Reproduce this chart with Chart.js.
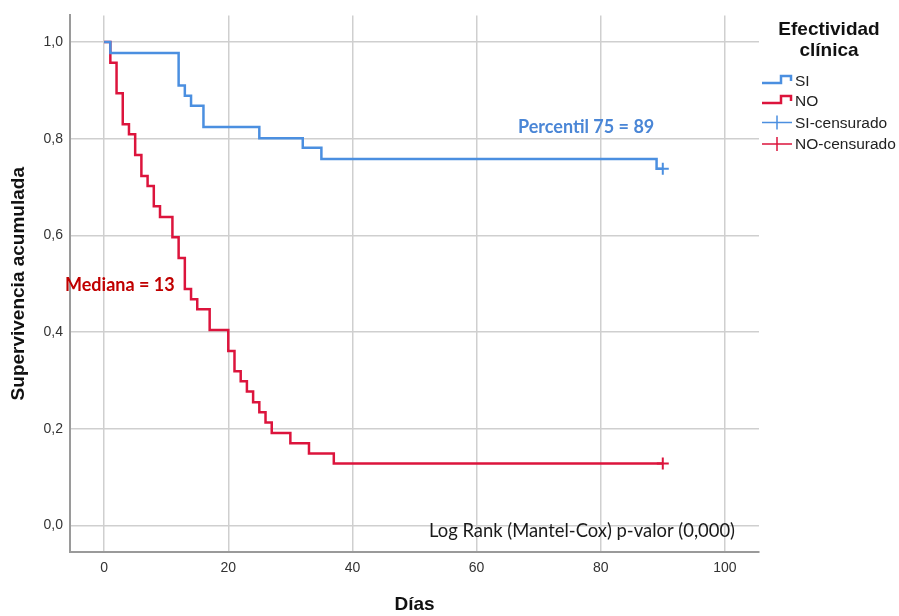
<!DOCTYPE html>
<html>
<head>
<meta charset="utf-8">
<script src="https://cdn.jsdelivr.net/npm/chart.js@4/dist/chart.umd.min.js"></script>
<style>
  html, body { margin: 0; padding: 0; background: #ffffff; }
  #wrap { width: 899px; height: 616px; position: relative; }
</style>
</head>
<body>
<div id="wrap"><canvas id="c" width="899" height="616"></canvas></div>
<script>
// ---- Data ----
const dayTicks = [0, 20, 40, 60, 80, 100];
const survTicks = [0, 0.2, 0.4, 0.6, 0.8, 1.0];

const siDays = [0, 1, 12, 13, 14, 16, 25, 32, 35, 89, 90];
const siSurv = [1, 0.977, 0.910, 0.889, 0.868, 0.824, 0.801, 0.781, 0.758, 0.738, 0.738];

const noDays = [0, 1, 2, 3, 4, 5, 6, 7, 8, 9, 11, 12, 13, 14, 15, 17, 20, 21, 22, 23, 24, 25, 26, 27, 30, 33, 37, 90];
const noSurv = [1, 0.957, 0.894, 0.830, 0.809, 0.766, 0.723, 0.702, 0.660, 0.638, 0.596, 0.553, 0.489, 0.468, 0.447, 0.404, 0.361, 0.319, 0.298, 0.277, 0.255, 0.234, 0.213, 0.191, 0.170, 0.149, 0.128, 0.128];

const siCensDays = [90];
const siCensSurv = [0.738];
const noCensDays = [90];
const noCensSurv = [0.128];

const groupLabels = ['SI', 'NO', 'SI-censurado', 'NO-censurado'];
const legendTitle = ['Efectividad', 'clínica'];
const xTitle = 'Días';
const yTitle = 'Supervivencia acumulada';
const noteMedian = 'Mediana = 13';
const notePct = 'Percentil 75 = 89';
const noteLogRank = 'Log Rank (Mantel-Cox) p-valor (0,000)';

// ---- Styles ----
const BLUE = '#4b8fe0';
const RED = '#dc143c';
const SANS = '"Liberation Sans", Arial, sans-serif';
const CAL = 'Lato, "Open Sans", sans-serif';

function pts(xs, ys) { return xs.map((x, i) => ({ x: x, y: ys[i] })); }

const legendPlugin = {
  id: 'spssLegend',
  afterDraw(chart) {
    const ctx = chart.ctx;
    ctx.save();
    ctx.fillStyle = '#111';
    ctx.textAlign = 'center';
    ctx.textBaseline = 'middle';
    ctx.font = 'bold 19px ' + SANS;
    ctx.fillText(legendTitle[0], 829, 30);
    ctx.fillText(legendTitle[1], 829, 51);

    const rows = [81, 101, 122.5, 144];
    const cols = [BLUE, RED, BLUE, RED];
    for (let i = 0; i < 4; i++) {
      const y = rows[i];
      ctx.strokeStyle = cols[i];
      if (i < 2) {
        ctx.lineWidth = 2.5;
        ctx.beginPath();
        ctx.moveTo(762, y + 2);
        ctx.lineTo(781, y + 2);
        ctx.lineTo(781, y - 5);
        ctx.lineTo(791, y - 5);
        ctx.lineTo(791, y);
        ctx.stroke();
      } else {
        ctx.lineWidth = 1.5;
        ctx.beginPath();
        ctx.moveTo(762, y);
        ctx.lineTo(792, y);
        ctx.moveTo(777, y - 7);
        ctx.lineTo(777, y + 7);
        ctx.stroke();
      }
      ctx.fillStyle = '#222';
      ctx.textAlign = 'left';
      ctx.font = '15.5px ' + SANS;
      ctx.fillText(groupLabels[i], 795, y + 1);
    }
    ctx.restore();
  }
};

const notesPlugin = {
  id: 'notes',
  afterDatasetsDraw(chart) {
    const ctx = chart.ctx;
    ctx.save();
    ctx.textBaseline = 'middle';
    ctx.textAlign = 'left';
    ctx.font = 'bold 18px ' + CAL;
    ctx.fillStyle = '#4a86d6';
    ctx.fillText(notePct, 518, 127);
    ctx.fillStyle = '#c00000';
    ctx.fillText(noteMedian, 65, 285);
    ctx.font = '18.4px ' + CAL;
    ctx.fillStyle = '#1a1a1a';
    ctx.fillText(noteLogRank, 429, 531);
    ctx.restore();
  }
};

new Chart(document.getElementById('c'), {
  type: 'scatter',
  data: {
    datasets: [
      { label: groupLabels[0], data: pts(siDays, siSurv), showLine: true, stepped: 'before',
        borderColor: BLUE, borderWidth: 2.5, pointRadius: 0, fill: false },
      { label: groupLabels[1], data: pts(noDays, noSurv), showLine: true, stepped: 'before',
        borderColor: RED, borderWidth: 2.5, pointRadius: 0, fill: false },
      { label: groupLabels[2], data: pts(siCensDays, siCensSurv), showLine: false,
        pointStyle: 'cross', pointRadius: 6, borderColor: BLUE, borderWidth: 2 },
      { label: groupLabels[3], data: pts(noCensDays, noCensSurv), showLine: false,
        pointStyle: 'cross', pointRadius: 6, borderColor: RED, borderWidth: 2 }
    ]
  },
  options: {
    responsive: false,
    animation: false,
    layout: { padding: { left: 0, right: 140, top: 10, bottom: 0 } },
    plugins: { legend: { display: false }, tooltip: { enabled: false } },
    scales: {
      x: {
        type: 'linear', min: -5.5, max: 105.5,
        afterBuildTicks(s) { s.ticks = dayTicks.map(v => ({ value: v })); },
        afterFit(s) { s.height = 64; },
        ticks: { font: { family: SANS, size: 14 }, color: '#333', padding: 8,
                 callback: v => String(v) },
        grid: { color: '#cfcfcf', lineWidth: 1.5, drawTicks: false },
        border: { display: true, color: '#9a9a9a', width: 2 },
        title: { display: true, text: xTitle, color: '#111',
                 font: { family: SANS, size: 19, weight: 'bold' }, padding: { top: 0, bottom: 0 } }
      },
      y: {
        type: 'linear', min: -0.055, max: 1.055,
        afterBuildTicks(s) { s.ticks = survTicks.map(v => ({ value: v })); },
        afterFit(s) { s.width = 70; },
        ticks: { font: { family: SANS, size: 14 }, color: '#333', padding: 7,
                 callback: v => v.toFixed(1).replace('.', ',') },
        grid: { color: '#cfcfcf', lineWidth: 1.5, drawTicks: false },
        border: { display: true, color: '#9a9a9a', width: 2 },
        title: { display: true, text: yTitle, color: '#111',
                 font: { family: SANS, size: 19, weight: 'bold' }, padding: { top: 7, bottom: 0 } }
      }
    }
  },
  plugins: [notesPlugin, legendPlugin]
});
</script>
</body>
</html>
